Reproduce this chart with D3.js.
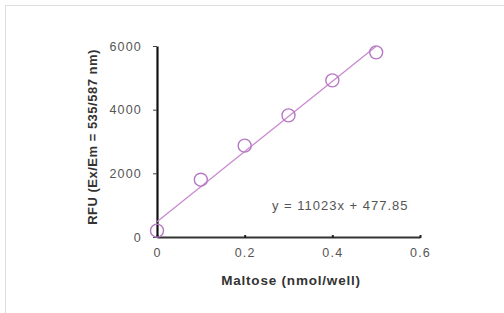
<!DOCTYPE html>
<html>
<head>
<meta charset="utf-8">
<script src="https://d3js.org/d3.v7.min.js"></script>
<style>
  body { margin: 0; background: #fff; }
  svg { display: block; }
</style>
</head>
<body>
<svg id="drawing_region"></svg>
<script>
// data
const maltose = [0, 0.1, 0.2, 0.3, 0.4, 0.5];
const rfu = [200, 1800, 2870, 3820, 4920, 5800];
const xTicks = [0, 0.2, 0.4, 0.6];
const yTicks = [0, 2000, 4000, 6000];
const slope = 11023;
const intercept = 477.85;

const width = 504, height = 313;
const margin = {top: 46, right: 84, bottom: 76, left: 157};

const svg = d3.select('#drawing_region')
    .attr('width', width)
    .attr('height', height);

// outer frame
svg.append('rect')
    .attr('x', 5.5).attr('y', 5.5)
    .attr('width', width + 10).attr('height', height + 10)
    .attr('fill', 'none')
    .attr('stroke', '#ddd');

const inner_width = width - margin.left - margin.right;
const inner_height = height - margin.top - margin.bottom;

const chart = svg.append('g')
    .attr('transform', `translate(${margin.left}, ${margin.top})`);

const xscale = d3.scaleLinear().domain([0, 0.6]).range([0, inner_width]);
const yscale = d3.scaleLinear().domain([0, 6000]).range([inner_height, 0]);

const font = 'Liberation Sans, Arial, sans-serif';

// x axis
const xaxis = d3.axisBottom(xscale)
    .tickValues(xTicks)
    .tickFormat(d => d === 0 ? '0' : d3.format('.1f')(d))
    .tickSize(0)
    .tickPadding(11);
const xg = chart.append('g')
    .attr('transform', `translate(0, ${inner_height})`)
    .call(xaxis);
xg.select('.domain').attr('stroke', '#333').attr('stroke-width', 2);
xg.selectAll('text')
    .attr('font-family', font).attr('font-size', 12.5).attr('fill', '#555')
    .attr('letter-spacing', 1.2);
xg.selectAll('.tick').append('line')
    .attr('y1', -2).attr('y2', 1)
    .attr('stroke', '#222').attr('stroke-width', 2);

// y axis
const yaxis = d3.axisLeft(yscale)
    .tickValues(yTicks)
    .tickFormat(d3.format('d'))
    .tickSize(4)
    .tickSizeOuter(0)
    .tickPadding(11);
const yg = chart.append('g').call(yaxis);
yg.select('.domain').attr('stroke', '#111').attr('stroke-width', 2.2);
yg.selectAll('.tick line').attr('stroke', '#444');
yg.selectAll('text')
    .attr('font-family', font).attr('font-size', 12.5).attr('fill', '#555')
    .attr('letter-spacing', 1.2);

// trend line
chart.append('line')
    .attr('x1', xscale(0)).attr('y1', yscale(intercept))
    .attr('x2', xscale(0.5)).attr('y2', yscale(slope * 0.5 + intercept))
    .attr('stroke', '#c98acf').attr('stroke-width', 1.3);

// points
chart.selectAll('circle')
    .data(maltose)
    .enter()
    .append('circle')
    .attr('cx', d => xscale(d))
    .attr('cy', (d, i) => yscale(rfu[i]))
    .attr('r', 6.5)
    .attr('fill', 'none')
    .attr('stroke', '#b67ac4')
    .attr('stroke-width', 1.4);

// equation
chart.append('text')
    .attr('x', xscale(0.418)).attr('y', yscale(850))
    .attr('text-anchor', 'middle')
    .attr('font-family', font).attr('font-size', 13).attr('fill', '#555')
    .attr('letter-spacing', 1)
    .text('y = 11023x + 477.85');

// axis titles
svg.append('text')
    .attr('x', 291).attr('y', 285)
    .attr('text-anchor', 'middle')
    .attr('font-family', font).attr('font-size', 13.5).attr('font-weight', 'bold')
    .attr('fill', '#333').attr('letter-spacing', 0.8)
    .text('Maltose (nmol/well)');

svg.append('text')
    .attr('transform', 'translate(97, 137) rotate(-90)')
    .attr('text-anchor', 'middle')
    .attr('font-family', font).attr('font-size', 13).attr('font-weight', 'bold')
    .attr('fill', '#333').attr('letter-spacing', 0.5)
    .text('RFU (Ex/Em = 535/587 nm)');
</script>
</body>
</html>
